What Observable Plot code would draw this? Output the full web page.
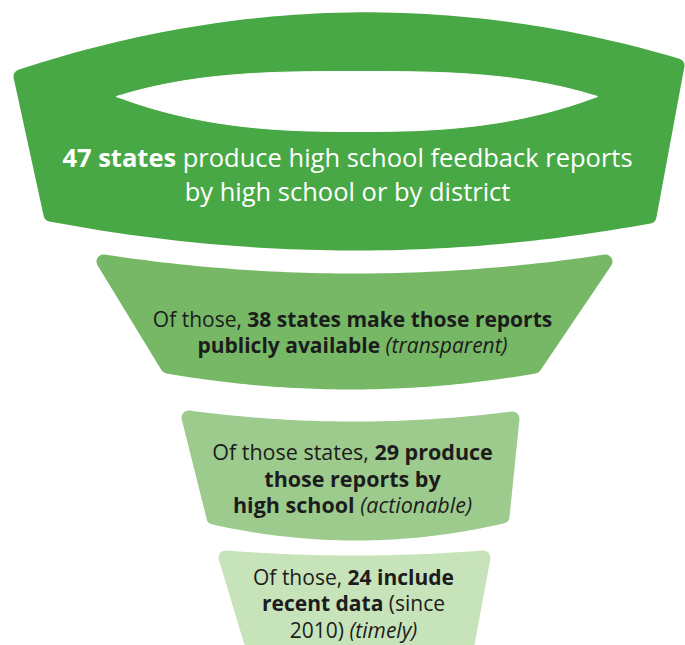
<!DOCTYPE html>
<html><head><meta charset="utf-8">
<script src="https://cdn.jsdelivr.net/npm/d3@7"></script>
<script src="https://cdn.jsdelivr.net/npm/@observablehq/plot@0.6"></script>
<style>
html,body{margin:0;padding:0;background:#fff;}
#chart svg{display:block;}
</style></head><body><div id="chart"></div>
<script>
// ---------- data ----------
const stageNames = ["produce", "transparent", "actionable", "timely"];
const stateCounts = [47, 38, 29, 24];
// label lines; ** ** = bold, _ _ = italic; {n} is replaced by the stage's count
const stageLabels = [
  ["**{n} states** produce high school feedback reports", "by high school or by district"],
  ["Of those, **{n} states make those reports**", "**publicly available** _(transparent)_"],
  ["Of those states, **{n} produce**", "**those reports by**", "**high school** _(actionable)_"],
  ["Of those, **{n} include**", "**recent data** (since", "2010) _(timely)_"]
];

// ---------- styles ----------
const stageFill = ["#48a845", "#76b866", "#9dcb8d", "#c7e3ba"];
const stageText = ["#ffffff", "#1c1c1c", "#1c1c1c", "#1c1c1c"];
const stageFont = [25.5, 21, 21.5, 21];
const FONT = "'Open Sans', sans-serif";

// ---------- layout (funnel geometry, in chart units) ----------
const layout = [
  {tl:[20,76], tr:[677,65], topMid:19, br:[649,216], bl:[50,214], botMid:243, labelX:347, labelY:158, gap:34.5},
  {tl:[103,261], tr:[605,261], topMid:280, br:[534,366], bl:[167,366], botMid:382, labelX:352, labelY:320, gap:26},
  {tl:[188,417], tr:[512,418], topMid:428, br:[502,516], bl:[213,517], botMid:533, labelX:352, labelY:453, gap:26.5},
  {tl:[225,557], tr:[483,557], topMid:562, br:[464,660], bl:[256,660], botMid:668, labelX:353, labelY:577.5, gap:26.7}
];
const hole = {x0:116, x1:597, cy:96, up:25, down:35};

// ---------- build shapes ----------
function edge(a, b, mid, p, n) {
  const pts = [];
  const base = (a[1] + b[1]) / 2;
  for (let i = 0; i <= n; i++) {
    const t = i / n;
    const u = Math.abs(2 * t - 1);
    pts.push([a[0] + (b[0] - a[0]) * t, a[1] + (b[1] - a[1]) * t + (mid - base) * (1 - Math.pow(u, p))]);
  }
  return pts;
}
const shapeRows = [];
stateCounts.forEach((count, i) => {
  const L = layout[i];
  const pts = [
    ...edge(L.tl, L.tr, L.topMid, 2, 60),
    ...edge(L.br, L.bl, L.botMid, 2, 60)
  ];
  pts.forEach(([x, y], k) => shapeRows.push({stage: stageNames[i], count, k, x, y}));
});
const holeRows = [];
{
  const n = 80, cx = (hole.x0 + hole.x1) / 2, rx = (hole.x1 - hole.x0) / 2;
  for (let i = 0; i <= n; i++) { const u = -1 + 2 * i / n; holeRows.push({x: cx + rx * u, y: hole.cy - hole.up * (1 - Math.pow(Math.abs(u), 3))}); }
  for (let i = 1; i < n; i++) { const u = 1 - 2 * i / n; holeRows.push({x: cx + rx * u, y: hole.cy + hole.down * (1 - Math.pow(Math.abs(u), 2.6))}); }
}

const textRows = [];
stageLabels.forEach((lines, i) => {
  const L = layout[i];
  lines.forEach((line, j) => {
    const markup = line.replace("{n}", stateCounts[i]);
    textRows.push({stage: i, markup, plain: markup.replace(/\*\*|_/g, ""), x: L.labelX, y: L.labelY + j * L.gap});
  });
});

const marks = [];
stageNames.forEach((name, i) => {
  marks.push(Plot.line(shapeRows.filter(d => d.stage === name), {
    x: "x", y: "y", curve: "linear-closed",
    fill: stageFill[i], stroke: stageFill[i], strokeWidth: 14, strokeLinejoin: "round"
  }));
});
marks.push(Plot.line(holeRows, {x: "x", y: "y", curve: "linear-closed", fill: "white", stroke: "white", strokeWidth: 1}));
stageNames.forEach((name, i) => {
  marks.push(Plot.text(textRows.filter(d => d.stage === i), {
    x: "x", y: "y", text: "plain", className: "lbl" + i,
    fill: stageText[i], fontSize: stageFont[i], fontFamily: FONT, textAnchor: "middle", lineAnchor: "middle"
  }));
});

const chart = Plot.plot({
  width: 685, height: 645, margin: 0,
  x: {domain: [0, 685], range: [0, 685], axis: null},
  y: {domain: [0, 645], range: [0, 645], axis: null},
  style: {background: "white", fontFamily: FONT},
  marks
});

// rich text: bold / italic spans
stageNames.forEach((name, i) => {
  const rows = textRows.filter(d => d.stage === i);
  chart.querySelectorAll(".lbl" + i + " text").forEach((t, j) => {
    const parts = rows[j].markup.split(/(\*\*[^*]+\*\*|_[^_]+_)/).filter(s => s.length);
    t.textContent = "";
    parts.forEach(p => {
      const ts = document.createElementNS("http://www.w3.org/2000/svg", "tspan");
      if (p.startsWith("**")) { ts.textContent = p.slice(2, -2); ts.setAttribute("font-weight", "bold"); }
      else if (p.startsWith("_")) { ts.textContent = p.slice(1, -1); ts.setAttribute("font-style", "italic"); }
      else ts.textContent = p;
      t.appendChild(ts);
    });
  });
});
document.getElementById("chart").appendChild(chart);
</script>
</body></html>
